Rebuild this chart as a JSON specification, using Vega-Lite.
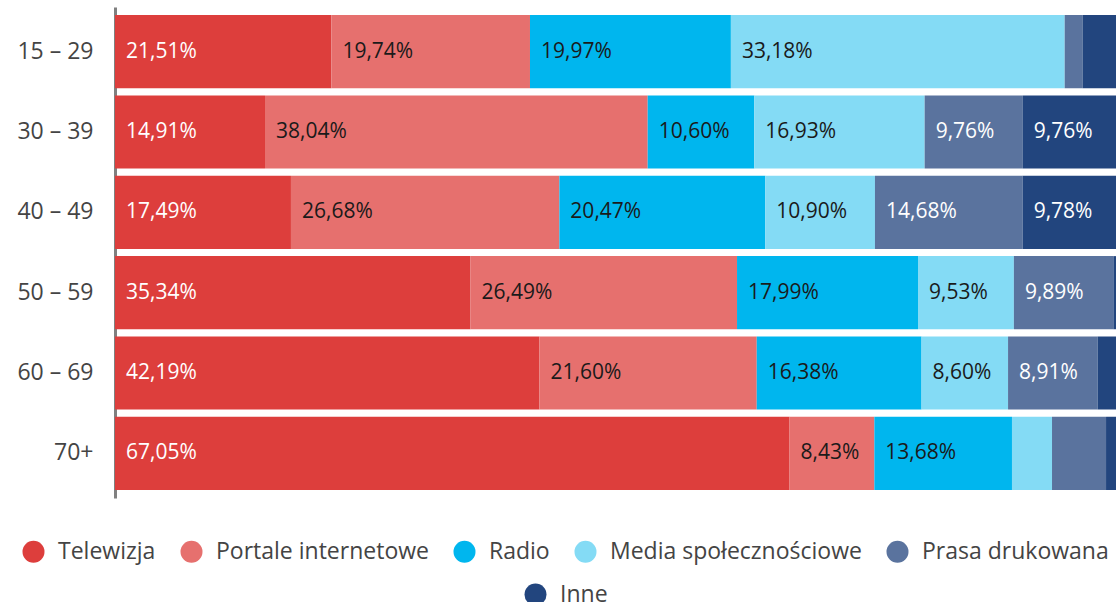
{
  "$schema": "https://vega.github.io/schema/vega-lite/v6.json",
  "autosize": {"type": "none"},
  "padding": {"left": 115, "top": 7, "right": 0, "bottom": 104},
  "width": 1001,
  "height": 491,
  "background": "white",
  "config": {
    "view": {"stroke": null},
    "font": "Open Sans",
    "locale": {"number": {"decimal": ",", "thousands": " ", "grouping": [3], "currency": ["", "%"]}},
    "legend": {
      "labelFont": "Open Sans",
      "labelFontSize": 23,
      "labelColor": "#444444",
      "labelLimit": 0,
      "symbolSize": 484,
      "symbolType": "circle",
      "symbolStrokeWidth": 0,
      "labelOffset": 13,
      "columnPadding": 24,
      "padding": 0
    }
  },
  "data": {
    "values": [
      {"age": "15 – 29", "series": "Telewizja", "k": 1, "v": 21.51},
      {"age": "15 – 29", "series": "Portale internetowe", "k": 2, "v": 19.74},
      {"age": "15 – 29", "series": "Radio", "k": 3, "v": 19.97},
      {"age": "15 – 29", "series": "Media społecznościowe", "k": 4, "v": 33.18},
      {"age": "15 – 29", "series": "Prasa drukowana", "k": 5, "v": 1.8},
      {"age": "15 – 29", "series": "Inne", "k": 6, "v": 3.8},
      {"age": "30 – 39", "series": "Telewizja", "k": 1, "v": 14.91},
      {"age": "30 – 39", "series": "Portale internetowe", "k": 2, "v": 38.04},
      {"age": "30 – 39", "series": "Radio", "k": 3, "v": 10.6},
      {"age": "30 – 39", "series": "Media społecznościowe", "k": 4, "v": 16.93},
      {"age": "30 – 39", "series": "Prasa drukowana", "k": 5, "v": 9.76},
      {"age": "30 – 39", "series": "Inne", "k": 6, "v": 9.76},
      {"age": "40 – 49", "series": "Telewizja", "k": 1, "v": 17.49},
      {"age": "40 – 49", "series": "Portale internetowe", "k": 2, "v": 26.68},
      {"age": "40 – 49", "series": "Radio", "k": 3, "v": 20.47},
      {"age": "40 – 49", "series": "Media społecznościowe", "k": 4, "v": 10.9},
      {"age": "40 – 49", "series": "Prasa drukowana", "k": 5, "v": 14.68},
      {"age": "40 – 49", "series": "Inne", "k": 6, "v": 9.78},
      {"age": "50 – 59", "series": "Telewizja", "k": 1, "v": 35.34},
      {"age": "50 – 59", "series": "Portale internetowe", "k": 2, "v": 26.49},
      {"age": "50 – 59", "series": "Radio", "k": 3, "v": 17.99},
      {"age": "50 – 59", "series": "Media społecznościowe", "k": 4, "v": 9.53},
      {"age": "50 – 59", "series": "Prasa drukowana", "k": 5, "v": 9.89},
      {"age": "50 – 59", "series": "Inne", "k": 6, "v": 0.76},
      {"age": "60 – 69", "series": "Telewizja", "k": 1, "v": 42.19},
      {"age": "60 – 69", "series": "Portale internetowe", "k": 2, "v": 21.6},
      {"age": "60 – 69", "series": "Radio", "k": 3, "v": 16.38},
      {"age": "60 – 69", "series": "Media społecznościowe", "k": 4, "v": 8.6},
      {"age": "60 – 69", "series": "Prasa drukowana", "k": 5, "v": 8.91},
      {"age": "60 – 69", "series": "Inne", "k": 6, "v": 2.32},
      {"age": "70+", "series": "Telewizja", "k": 1, "v": 67.05},
      {"age": "70+", "series": "Portale internetowe", "k": 2, "v": 8.43},
      {"age": "70+", "series": "Radio", "k": 3, "v": 13.68},
      {"age": "70+", "series": "Media społecznościowe", "k": 4, "v": 3.98},
      {"age": "70+", "series": "Prasa drukowana", "k": 5, "v": 5.37},
      {"age": "70+", "series": "Inne", "k": 6, "v": 1.49}
    ]
  },
  "transform": [
    {"stack": "v", "groupby": ["age"], "sort": [{"field": "k", "order": "ascending"}], "as": ["x0", "x1"]}
  ],
  "encoding": {
    "y": {
      "field": "age",
      "type": "nominal",
      "sort": null,
      "title": null,
      "scale": {"paddingInner": 0.09, "paddingOuter": 0.1},
      "axis": {
        "ticks": false,
        "domainColor": "#808080",
        "domainWidth": 3,
        "labelFont": "Open Sans",
        "labelFontSize": 23,
        "labelColor": "#444444",
        "labelPadding": 22
      }
    }
  },
  "layer": [
    {
      "mark": {"type": "bar"},
      "encoding": {
        "x": {"field": "x0", "type": "quantitative", "scale": {"domain": [0, 99.5], "nice": false, "zero": false}, "axis": null},
        "x2": {"field": "x1"},
        "color": {
          "field": "series",
          "type": "nominal",
          "scale": {
            "domain": ["Telewizja", "Portale internetowe", "Radio", "Media społecznościowe", "Prasa drukowana", "Inne"],
            "range": ["#dd3e3c", "#e6706e", "#00b6ee", "#84dbf5", "#5a739e", "#22457e"]
          },
          "legend": {
            "title": null,
            "orient": "none",
            "direction": "horizontal",
            "legendX": -93,
            "legendY": 533,
            "values": ["Telewizja", "Portale internetowe", "Radio", "Media społecznościowe", "Prasa drukowana"]
          }
        }
      }
    },
    {
      "transform": [{"filter": "datum.v >= 8"}],
      "mark": {"type": "text", "align": "left", "baseline": "middle", "dx": 11, "fontSize": 21, "font": "Open Sans"},
      "encoding": {
        "x": {"field": "x0", "type": "quantitative"},
        "text": {"field": "v", "type": "quantitative", "format": "$.2f"},
        "color": {
          "condition": {"test": "datum.series === 'Telewizja' || datum.series === 'Prasa drukowana' || datum.series === 'Inne'", "value": "#ffffff"},
          "value": "#1a1a1a"
        }
      }
    },
    {
      "transform": [{"filter": "datum.series === 'Inne'"}],
      "mark": {"type": "point", "filled": true, "opacity": 0, "color": "#22457e"},
      "encoding": {
        "x": {"field": "x0", "type": "quantitative"},
        "shape": {
          "field": "series",
          "type": "nominal",
          "scale": {"domain": ["Inne"], "range": ["circle"]},
          "legend": {
            "title": null,
            "orient": "none",
            "legendX": 409,
            "legendY": 576,
            "symbolOpacity": 1,
            "symbolFillColor": "#22457e"
          }
        }
      }
    }
  ]
}
